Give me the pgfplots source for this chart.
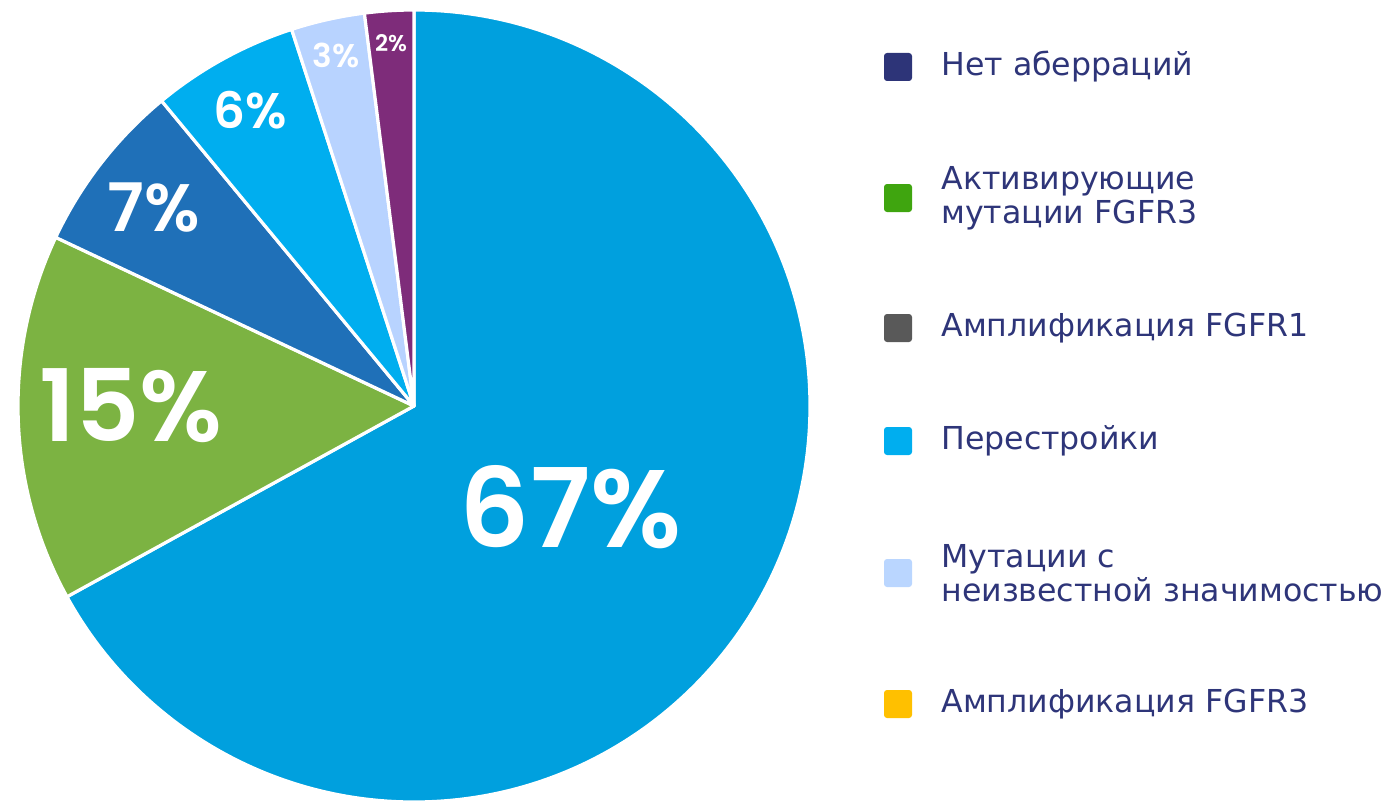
\documentclass[border=0pt]{standalone}
\usepackage{fontspec}
\setmainfont{DejaVu Sans}
\newfontfamily\pop{Poppins SemiBold}
\usepackage{pgfplots}
\pgfplotsset{compat=1.18}
\definecolor{s1}{HTML}{00A0DE}
\definecolor{s2}{HTML}{7CB342}
\definecolor{s3}{HTML}{1F70B8}
\definecolor{s4}{HTML}{00AEEF}
\definecolor{s5}{HTML}{B8D3FF}
\definecolor{s6}{HTML}{7E2C7A}
\definecolor{l1}{HTML}{2D3478}
\definecolor{l2}{HTML}{3FA50F}
\definecolor{l3}{HTML}{595959}
\definecolor{l4}{HTML}{00AEEF}
\definecolor{l5}{HTML}{BAD6FF}
\definecolor{l6}{HTML}{FFC000}
\definecolor{txt}{HTML}{2E3579}
\begin{document}
\begin{tikzpicture}
\path[use as bounding box] (0,0) rectangle (696.5pt,400pt);
\begin{axis}[
  at={(207pt,197pt)}, anchor=center,
  x=198pt, y=198pt,
  xmin=-1, xmax=1, ymin=-1, ymax=1,
  enlargelimits=false, hide axis, clip=false,
]
\addplot[draw=none, forget plot] coordinates {(-1,-1) (1,1)};
\gdef\startA{90}
\foreach \v/\c in {67/s1,15/s2,7/s3,6/s4,3/s5,2/s6}{
  \pgfmathsetmacro\endA{\startA-\v*3.6}
  \pgfmathsetmacro\cx{cos(\startA)}
  \pgfmathsetmacro\cy{sin(\startA)}
  \edef\temp{\noexpand\fill[\c, draw=white, line width=1.6pt, line join=round] (axis cs:0,0) -- (axis cs:\cx,\cy) arc[start angle=\startA, end angle=\endA, radius=198pt] -- cycle;}
  \temp
  \xdef\startA{\endA}
}
\node[white, font=\pop\fontsize{55}{55}\selectfont] at (axis cs:0.396,-0.255) {67\%};
\node[white, font=\pop\fontsize{50}{50}\selectfont] at (axis cs:-0.715,0) {15\%};
\node[white, font=\pop\fontsize{33.5}{33.5}\selectfont] at (axis cs:-0.657,0.5) {7\%};
\node[white, font=\pop\fontsize{25}{25}\selectfont] at (axis cs:-0.414,0.747) {6\%};
\node[white, font=\pop\fontsize{16.4}{16.4}\selectfont] at (axis cs:-0.197,0.886) {3\%};
\node[white, font=\pop\fontsize{11.4}{11.4}\selectfont] at (axis cs:-0.058,0.917) {2\%};
\end{axis}
\foreach \y/\c/\t in {366.5/l1/{Нет аберраций},301/l2/{Активирующие\\мутации FGFR3},236/l3/{Амплификация FGFR1},179.5/l4/{Перестройки},113.5/l5/{Мутации с\\неизвестной значимостью},48/l6/{Амплификация FGFR3}}{
  \fill[\c, rounded corners=1.5pt] (442pt,\y pt-7pt) rectangle (456pt,\y pt+7pt);
  \node[anchor=west, inner sep=0pt, align=left, text=txt, font=\fontsize{15.8}{17}\selectfont] at (470.5pt,\y pt) {\t};
}
\end{tikzpicture}
\end{document}
